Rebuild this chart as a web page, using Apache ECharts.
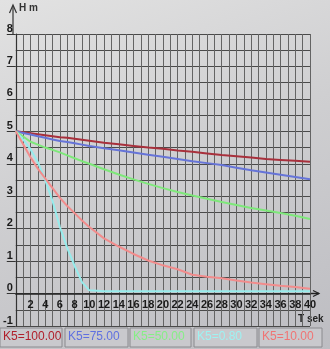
<!DOCTYPE html>
<html>
<head>
<meta charset="utf-8">
<script src="https://cdn.jsdelivr.net/npm/echarts@6/dist/echarts.min.js"></script>
<style>
html,body{margin:0;padding:0;}
body{width:330px;height:349px;background:linear-gradient(160deg,#e2e2e2 0%,#cfcfd1 45%,#bdbdc2 100%);}
#c{width:330px;height:349px;}
</style>
</head>
<body>
<div id="c"></div>
<script>
// time axis (sek)
const T = [0,1,2,3,4,5,6,7,8,9,10,12,14,16,18,20,22,24,26,28,30,32,34,36,38,40];
// H (m) for each K5 value
const h100 = [5,4.97,4.94,4.91,4.88,4.85,4.82,4.8,4.77,4.74,4.71,4.65,4.6,4.55,4.5,4.46,4.41,4.37,4.32,4.27,4.23,4.19,4.15,4.12,4.09,4.06];
const h75  = [5,4.95,4.9,4.85,4.8,4.75,4.7,4.67,4.63,4.59,4.55,4.48,4.42,4.35,4.28,4.22,4.15,4.08,4.02,3.96,3.88,3.8,3.73,3.66,3.59,3.52];
const h50  = [5,4.84,4.68,4.59,4.5,4.43,4.35,4.26,4.17,4.08,4.0,3.83,3.67,3.52,3.38,3.25,3.13,3.02,2.92,2.82,2.73,2.64,2.56,2.48,2.4,2.3];
const h080 = [5,4.75,4.45,4.05,3.5,2.85,2.05,1.4,0.85,0.35,0.1,0.07,0.07,0.07,0.07,0.07,0.07,0.07,0.07,0.07,0.07,0.07,0.07,0.07,0.07,0.07];
const h10  = [5,4.6,4.2,3.85,3.55,3.25,2.95,2.7,2.48,2.25,2.05,1.7,1.45,1.22,1.02,0.87,0.75,0.58,0.52,0.47,0.4,0.34,0.29,0.24,0.2,0.15];

const labels = ['K5=100.00','K5=75.00','K5=50.00','K5=0.80','K5=10.00'];
const seriesData = [h100,h75,h50,h080,h10];
const colors = ['#a8303c','#6674d8','#7ee87a','#96ecec','#f28c8c'];
const textColors = ['#b0202c','#5f70e0','#86ee86','#9ef2f2','#f07474'];

const chart = echarts.init(document.getElementById('c'), null, {renderer:'canvas'});

const boxX = [0,65,130,194,259];
const boxW = [62,63,61,63,63];
const graphics = [
  {type:'line', shape:{x1:13,y1:34,x2:13,y2:6}, style:{stroke:'#333',lineWidth:1.2}},
  {type:'polyline', shape:{points:[[9.5,13],[13,5],[16.5,13]]}, style:{stroke:'#333',lineWidth:1.2,fill:null}},
  {type:'text', left:19, top:3, style:{text:'H m', font:'bold 10px "Liberation Sans", Arial', fill:'#333'}},
  {type:'line', shape:{x1:310,y1:293.5,x2:319,y2:293.5}, style:{stroke:'#222',lineWidth:1.5}},
  {type:'polyline', shape:{points:[[313,290.5],[319,293.5],[313,296.5]]}, style:{stroke:'#222',lineWidth:1.2,fill:null}},
  {type:'text', left:298, top:314, style:{text:'T sek', font:'bold 10px "Liberation Sans", Arial', fill:'#222'}}
];
labels.forEach((lb,i)=>{
  graphics.push({type:'rect', shape:{x:boxX[i],y:328,width:boxW[i],height:19}, style:{fill:'#c9c9cd',stroke:'#8a8a8e',lineWidth:1}});
  graphics.push({type:'text', left:boxX[i]+3, top:331, style:{text:lb, font:'12px "Liberation Sans", Arial', fill:textColors[i]}});
});

chart.setOption({
  backgroundColor:'transparent',
  animation:false,
  grid:{left:13,right:20,top:34,bottom:23,containLabel:false},
  xAxis:{
    type:'value', min:0, max:40, interval:2, position:'bottom', offset:-32.4,
    axisLine:{show:true,onZero:false,lineStyle:{color:'#222',width:1.5}},
    axisTick:{show:false},
    axisLabel:{margin:6,color:'#1a1a1a',fontSize:11,fontWeight:'bold',fontFamily:'"Liberation Sans", Arial',
      formatter:v=> v===0?'':String(v)},
    splitLine:{show:true,lineStyle:{color:'#646464',width:1}},
    minorTick:{show:false,splitNumber:2},
    minorSplitLine:{show:true,lineStyle:{color:'#646464',width:1}}
  },
  yAxis:{
    type:'value', min:-1, max:8, interval:1,
    axisLine:{show:true,lineStyle:{color:'#333',width:1.2}},
    axisTick:{show:true,length:9,lineStyle:{color:'#333',width:1}},
    axisLabel:{margin:3,color:'#1a1a1a',fontSize:11,fontWeight:'bold',fontFamily:'"Liberation Sans", Arial',verticalAlign:'bottom',align:'right'},
    splitLine:{show:true,lineStyle:{color:'#4a4a4a',width:1}},
    minorTick:{show:false,splitNumber:2},
    minorSplitLine:{show:true,lineStyle:{color:'#4a4a4a',width:1}}
  },
  series: seriesData.map((d,i)=>({
    name:labels[i], type:'line', showSymbol:false, smooth:false,
    data:T.map((t,j)=>[t,d[j]]),
    lineStyle:{color:colors[i],width:2},
    itemStyle:{color:colors[i]}
  })),
  graphic: graphics
});
</script>
</body>
</html>
